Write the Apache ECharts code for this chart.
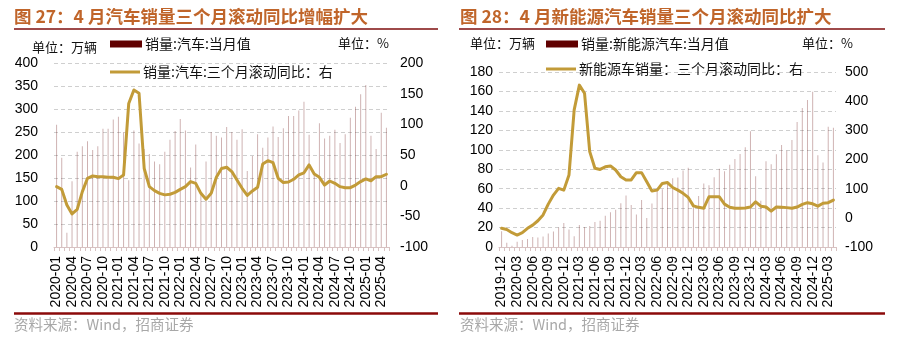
<!DOCTYPE html>
<html><head><meta charset="utf-8">
<script src="https://cdn.jsdelivr.net/npm/echarts@6/dist/echarts.min.js"></script>
<style>html,body{margin:0;padding:0;background:#fff;}#c{width:911px;height:338px;}</style>
</head><body><div id="c"></div>
<script>
// ---------- Data ----------
const months1 = ['2019-12','2020-01','2020-02','2020-03','2020-04','2020-05','2020-06','2020-07','2020-08','2020-09','2020-10','2020-11','2020-12',
'2021-01','2021-02','2021-03','2021-04','2021-05','2021-06','2021-07','2021-08','2021-09','2021-10','2021-11','2021-12',
'2022-01','2022-02','2022-03','2022-04','2022-05','2022-06','2022-07','2022-08','2022-09','2022-10','2022-11','2022-12',
'2023-01','2023-02','2023-03','2023-04','2023-05','2023-06','2023-07','2023-08','2023-09','2023-10','2023-11','2023-12',
'2024-01','2024-02','2024-03','2024-04','2024-05','2024-06','2024-07','2024-08','2024-09','2024-10','2024-11','2024-12',
'2025-01','2025-02','2025-03','2025-04'];
const months2 = months1.slice();
const tickLabels1 = ['2020-01','2020-04','2020-07','2020-10','2021-01','2021-04','2021-07','2021-10','2022-01','2022-04','2022-07','2022-10',
'2023-01','2023-04','2023-07','2023-10','2024-01','2024-04','2024-07','2024-10','2025-01','2025-04'];
const tickLabels2 = ['2019-12','2020-03','2020-06','2020-09','2020-12','2021-03','2021-06','2021-09','2021-12','2022-03','2022-06','2022-09',
'2022-12','2023-03','2023-06','2023-09','2023-12','2024-03','2024-06','2024-09','2024-12','2025-03'];

const autoMonthly = [266,194,31,143,207,219,230,211,219,257,257,277,283,
250,145,253,225,213,202,186,180,207,233,252,278,
253,173,223,118,186,250,242,238,261,250,233,256,
165,198,245,216,238,262,239,258,285,285,297,316,
244,158,269,236,242,255,226,245,281,305,332,352,
242,213,292,259];
const autoRolling = [-1.6,-6,-31.5,-46,-38.6,-9.7,12,15.8,14.7,14.7,13.6,13.6,11.5,
17.5,134,156,150.7,28,-1.6,-8,-12.5,-15,-14,-11,-6,
-1.6,6.6,3.8,-12.5,-22,-12.5,13.6,28,30,23,9.3,-4.3,
-16,-8.6,-2.7,35.4,40.8,37.5,12,5,6,10.4,17.5,21,
33.8,19,13.6,1,7.6,3.8,-1.6,-3.3,-3.3,1,6.6,11,
8,14.7,14.7,18.6];

const nevMonthly = [16.3,4.4,1.3,5.3,7.2,8.2,10.4,9.8,10.9,13.8,16.0,20.0,24.8,
17.9,11.0,22.6,20.6,21.7,25.6,27.1,32.1,35.7,38.3,45.0,53.1,
43.1,33.4,48.4,29.9,44.7,59.6,59.3,66.6,70.8,71.4,78.6,81.4,
40.8,52.5,65.3,63.6,71.7,80.6,78.0,84.6,90.4,95.6,102.6,119.1,
72.9,47.7,88.3,85.0,95.5,104.9,99.1,110.0,128.7,143.0,151.2,159.6,
94.4,87,123.7,122.6];
const nevRolling = [-36,-40,-51,-59,-51,-36,-25,-10,10,47,78,101,95,
147,370,455,427,227,170,166,175,178,164,141,130,
130,155,155,124,92,95,118,121,104,95,84,70,
41,36,33,72,72,72,47,36,33,33,34,37,
55,40,37,23,37,36,35,33,37,46,52,48,
40,50,52,61];

const name1Bar = '销量:汽车:当月值';
const name1Line = '销量:汽车:三个月滚动同比：右';
const name2Bar = '销量:新能源汽车:当月值';
const name2Line = '新能源车销量：三个月滚动同比：右';

// ---------- Styles ----------
const FONT = "'Liberation Sans', 'Noto Sans CJK SC', sans-serif";
const CJK = "'Noto Sans CJK SC', 'Liberation Sans', sans-serif";
const TITLE_C = '#C0652A';
const RULE_C = '#7E0E0E';
const BAR_C = '#600000';
const LINE_C = '#C29B38';
const AXIS_C = '#D8C2C2';

function xAxisCfg(gridIndex, cats, labels) {
  return {
    type: 'category', gridIndex: gridIndex, data: cats, boundaryGap: true,
    axisLine: { show: true, lineStyle: { color: AXIS_C, width: 1 } },
    axisTick: { show: true, interval: 0, length: 4, lineStyle: { color: AXIS_C } },
    axisLabel: {
      rotate: 90, margin: 9, color: '#000', fontFamily: FONT, fontSize: 14,
      interval: function (i) { return i % 3 === 0; },
      formatter: function (v, i) { return labels[i / 3] || ''; }
    },
    splitLine: { show: false }
  };
}
function yAxisCfg(gridIndex, pos, min, max, interval, margin, split) {
  return {
    type: 'value', gridIndex: gridIndex, position: pos, min: min, max: max, interval: interval,
    axisLine: { show: false }, axisTick: { show: false },
    axisLabel: { color: '#000', fontFamily: FONT, fontSize: 14, margin: margin },
    splitLine: split ? { show: true, lineStyle: { color: '#CFCFCF', type: [4, 3], width: 1 } } : { show: false }
  };
}
function legendCfg(name, left, top, isBar) {
  return {
    data: [name], left: left, top: top, padding: 0, itemGap: 0,
    icon: 'rect', itemWidth: isBar ? 32 : 30, itemHeight: isBar ? 7 : 3,
    itemStyle: { color: isBar ? BAR_C : LINE_C, opacity: 1 },
    textStyle: { fontFamily: CJK, fontSize: 14, color: '#111', padding: [0, 0, 0, -2] },
    selectedMode: false
  };
}

const chart = echarts.init(document.getElementById('c'), null, { renderer: 'canvas' });
chart.setOption({
  backgroundColor: '#fff',
  animation: false,
  textStyle: { fontFamily: FONT },
  grid: [
    { left: 54, top: 63, width: 335, height: 184 },
    { left: 499, top: 72, width: 337, height: 175 }
  ],
  xAxis: [xAxisCfg(0, months1, tickLabels1), xAxisCfg(1, months2, tickLabels2)],
  yAxis: [
    yAxisCfg(0, 'left', 0, 400, 50, 16, true),
    yAxisCfg(0, 'right', -100, 200, 50, 11, false),
    yAxisCfg(1, 'left', 0, 180, 20, 6, true),
    yAxisCfg(1, 'right', -100, 500, 100, 9, false)
  ],
  legend: [
    legendCfg(name1Bar, 110, 37, true),
    legendCfg(name1Line, 110, 65, false),
    legendCfg(name2Bar, 546, 37, true),
    legendCfg(name2Line, 546, 62, false)
  ],
  series: [
    { name: name1Bar, type: 'bar', xAxisIndex: 0, yAxisIndex: 0, data: autoMonthly, barWidth: 1,
      itemStyle: { color: BAR_C, opacity: 0.3 }, z: 2 },
    { name: name1Line, type: 'line', xAxisIndex: 0, yAxisIndex: 1, data: autoRolling, symbol: 'none',
      lineStyle: { color: LINE_C, width: 3, cap: 'round', join: 'round' }, itemStyle: { color: LINE_C }, z: 5 },
    { name: name2Bar, type: 'bar', xAxisIndex: 1, yAxisIndex: 2, data: nevMonthly, barWidth: 1,
      itemStyle: { color: BAR_C, opacity: 0.3 }, z: 2 },
    { name: name2Line, type: 'line', xAxisIndex: 1, yAxisIndex: 3, data: nevRolling, symbol: 'none',
      lineStyle: { color: LINE_C, width: 3, cap: 'round', join: 'round' }, itemStyle: { color: LINE_C }, z: 5 }
  ],
  graphic: [
    { type: 'text', left: 14, top: 8, style: { text: '图 27：4 月汽车销量三个月滚动同比增幅扩大', fill: TITLE_C, font: "bold 17.5px " + CJK } },
    { type: 'line', shape: { x1: 14, y1: 29, x2: 438, y2: 29 }, style: { stroke: RULE_C, lineWidth: 1.5 } },
    { type: 'text', left: 32, top: 41, style: { text: '单位：万辆', fill: '#111', font: "13px " + CJK } },
    { type: 'text', left: 338, top: 37, style: { text: '单位：%', fill: '#111', font: "13px " + CJK } },
    { type: 'line', shape: { x1: 14, y1: 313.5, x2: 438, y2: 313.5 }, style: { stroke: '#8B0A0A', lineWidth: 2.5 } },
    { type: 'text', left: 14, top: 317, style: { text: '资料来源：Wind，招商证券', fill: '#A8A8A8', font: "14.5px " + CJK } },

    { type: 'text', left: 460, top: 8, style: { text: '图 28：4 月新能源汽车销量三个月滚动同比扩大', fill: TITLE_C, font: "bold 17.5px " + CJK } },
    { type: 'line', shape: { x1: 459, y1: 29, x2: 885, y2: 29 }, style: { stroke: RULE_C, lineWidth: 1.5 } },
    { type: 'text', left: 470, top: 37, style: { text: '单位：万辆', fill: '#111', font: "13px " + CJK } },
    { type: 'text', left: 802, top: 37, style: { text: '单位：%', fill: '#111', font: "13px " + CJK } },
    { type: 'line', shape: { x1: 459, y1: 313.5, x2: 885, y2: 313.5 }, style: { stroke: '#8B0A0A', lineWidth: 2.5 } },
    { type: 'text', left: 460, top: 317, style: { text: '资料来源：Wind，招商证券', fill: '#A8A8A8', font: "14.5px " + CJK } }
  ]
});
</script></body></html>
